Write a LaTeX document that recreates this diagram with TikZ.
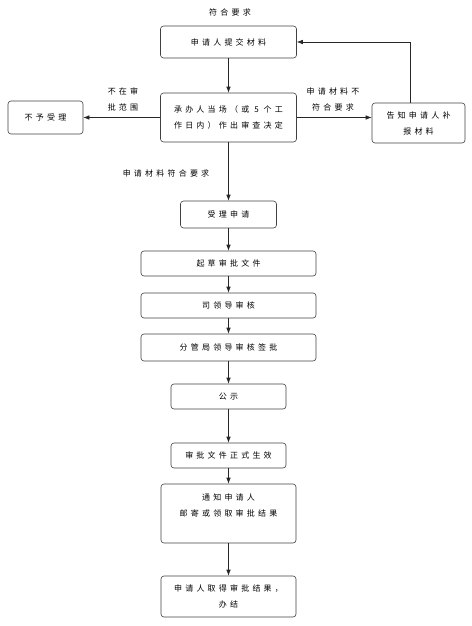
\documentclass[tikz,border=0pt]{standalone}
\usepackage{fontspec}
\setmainfont{Noto Sans CJK SC}[LetterSpace=40]
\usetikzlibrary{arrows.meta}

\begin{document}
\begin{tikzpicture}[x=1pt,y=-1pt,font=\fontsize{8}{16}\selectfont,
  box/.style n args={2}{draw=black!75,line width=0.6pt,rounded corners=3pt,inner sep=0pt,align=center,minimum width=#1,minimum height=#2},
  arr/.style={draw=black!85,line width=0.6pt,-{Latex[length=6pt,width=4.5pt]}},
  lbl/.style={align=center,inner sep=0pt}]
\useasboundingbox (0,0) rectangle (471,626);
\node[lbl] (top) at (230,12) {符合要求};
\node[box={136}{32}] (submit) at (228.5,42) {申请人提交材料};
\node[box={136}{49}] (decide) at (228.5,117.5) {承办人当场（或 5 个工\\作日内）作出审查决定};
\node[box={75}{33}] (reject) at (45.5,117.5) {不予受理};
\node[box={93}{40}] (supply) at (418.5,123) {告知申请人补\\报材料};
\node[box={96}{27}] (accept) at (228.5,214.5) {受理申请};
\node[box={175}{25}] (draft) at (228.5,263.5) {起草审批文件};
\node[box={175}{25}] (review) at (228.5,305.5) {司领导审核};
\node[box={175}{27}] (sign) at (228.5,347.5) {分管局领导审核签批};
\node[box={115}{25}] (publish) at (228.5,396.5) {公示};
\node[box={115}{25}] (effect) at (228.5,455.5) {审批文件正式生效};
\node[box={135}{59}] (inform) at (228.5,513.5) {通知申请人\\邮寄或领取审批结果\\\mbox{}};
\node[box={135}{41}] (finish) at (228.5,596.5) {申请人取得审批结果，\\办结};
\node[lbl] (outscope) at (123,99) {不在审\\批范围};
\node[lbl] (notmeet) at (333,99) {申请材料不\\符合要求};
\node[lbl] (meet) at (166,173) {申请材料符合要求};
% main line
\foreach \a/\b in {submit/decide,decide/accept,accept/draft,draft/review,review/sign,sign/publish,publish/effect,effect/inform,inform/finish} {
   \draw[arr] (\a.south) -- (\b.north);
}
\draw[arr] (decide.west) -- (reject.east);
\draw[arr] (decide.east) -- (decide.east -| supply.west);
\draw[arr] ([xshift=-8pt]supply.north) |- (submit.east);
\end{tikzpicture}
\end{document}
